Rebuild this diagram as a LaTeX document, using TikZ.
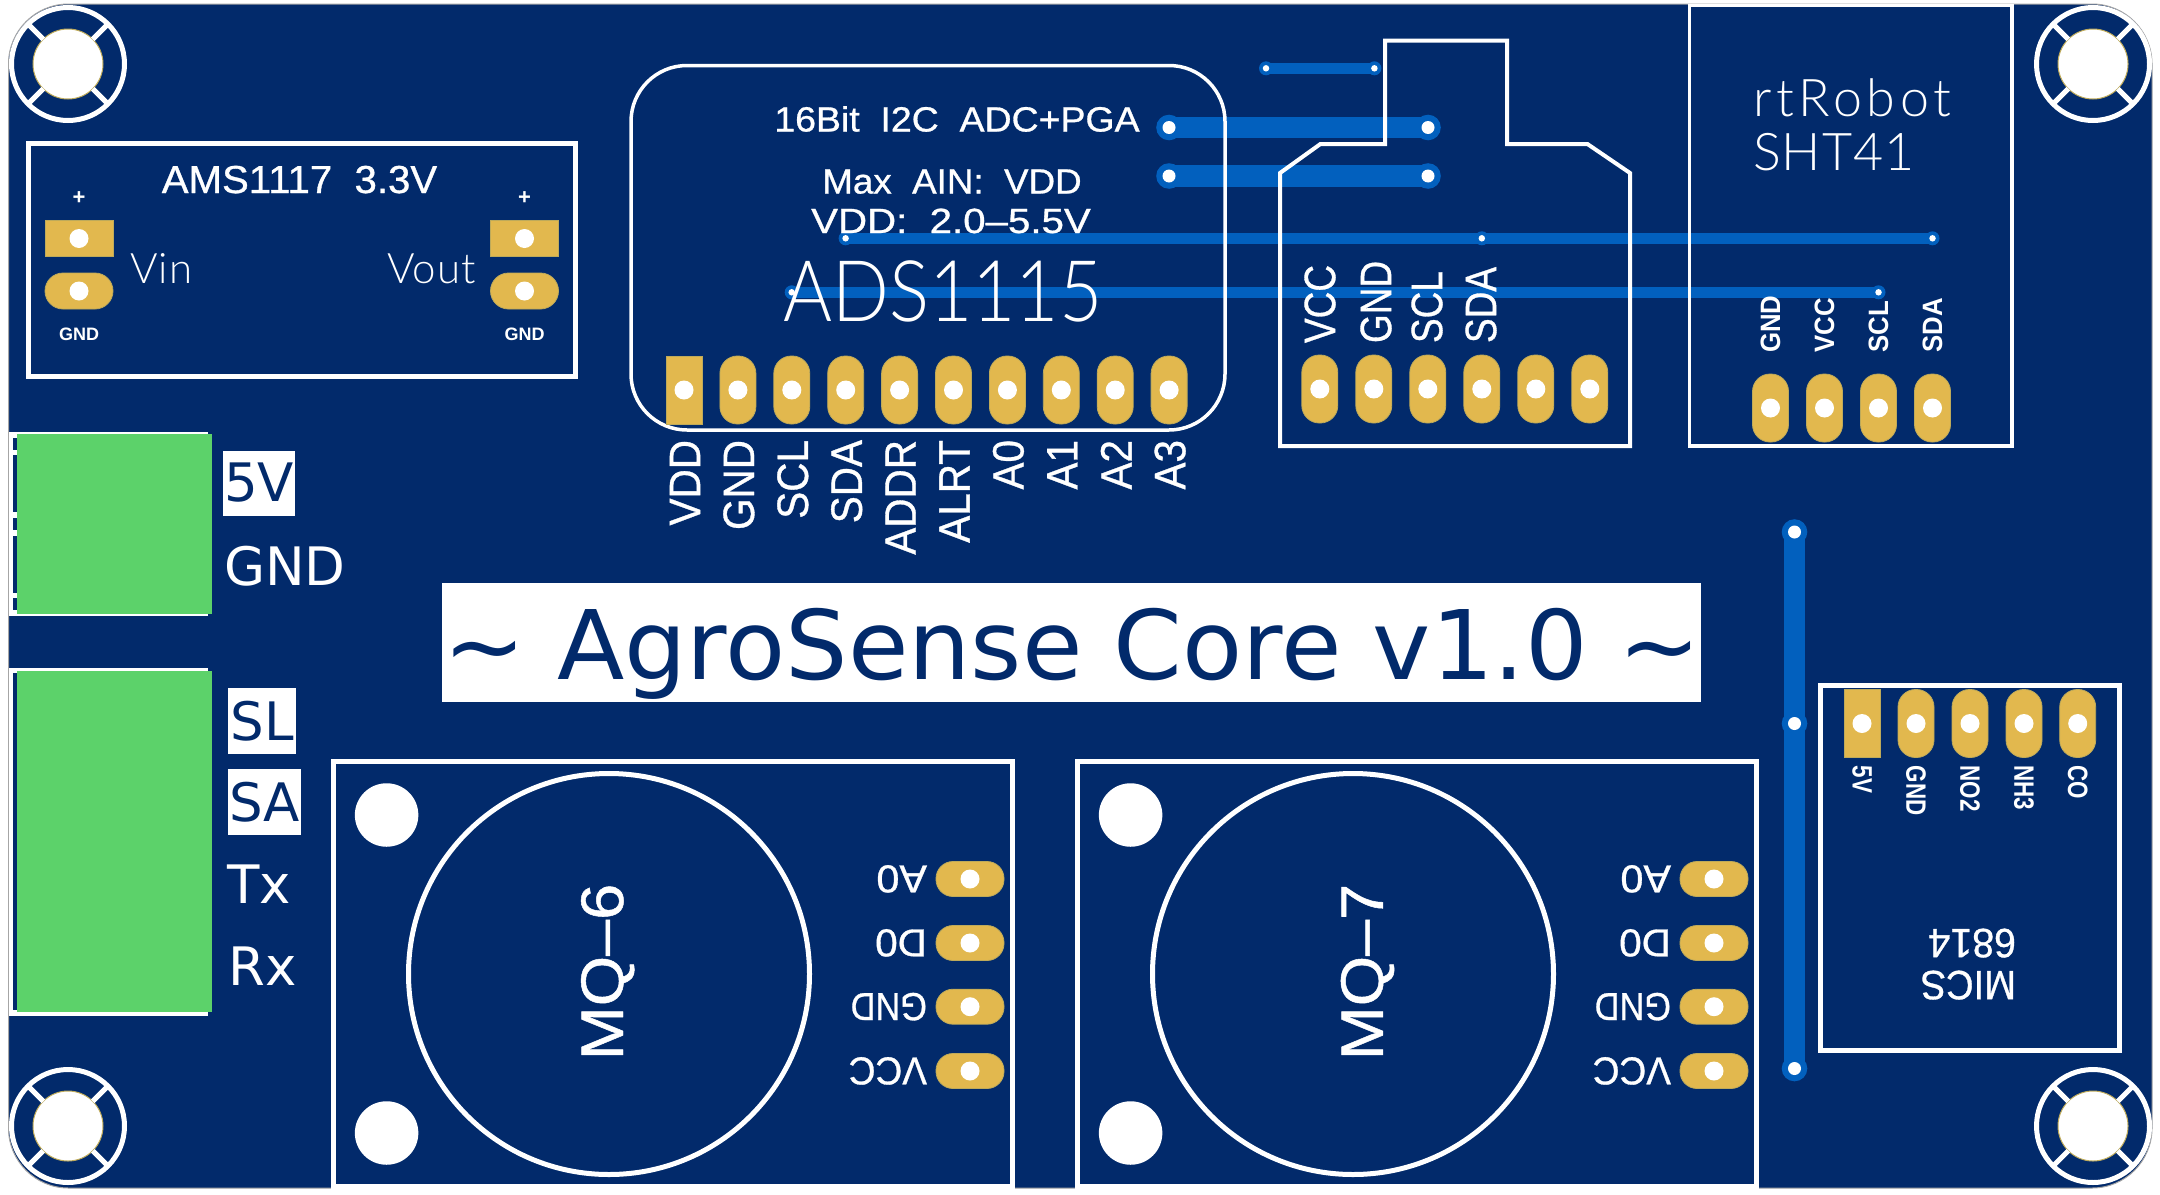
\documentclass[tikz,border=0pt]{standalone}
\usepackage{fontspec}
\setmainfont{Liberation Sans}
\newfontfamily\titlefont{DejaVu Sans}
\newfontfamily\strokefont[FakeBold=0.8]{Liberation Sans}
\newfontfamily\thinfont{Lato Light}
\usetikzlibrary{positioning}
\definecolor{boardcol}{RGB}{2,42,107}
\definecolor{tracecol}{RGB}{2,96,190}
\definecolor{padcol}{RGB}{226,184,78}
\definecolor{paded}{RGB}{190,170,90}
\definecolor{termcol}{RGB}{92,210,106}
\newcommand{\fsz}[1]{\fontsize{#1}{#1}\selectfont}
\newcommand{\squeeze}[2]{\scalebox{#1}[1]{#2}}
\newcommand{\spaced}[2]{{\addfontfeature{LetterSpace=#1}#2}}

\begin{document}
\begin{tikzpicture}[
    x=1pt, y=-1pt,
    every node/.style={inner sep=0pt, outer sep=0pt},
    silk/.style={draw=white, line width=5pt},
    silkthin/.style={draw=white, line width=3.5pt},
    padtall/.style={rectangle, rounded corners=17.5pt, fill=padcol, draw=paded, line width=0.8pt, minimum width=36pt, minimum height=68pt},
    padsq/.style={rectangle, fill=padcol, draw=paded, line width=0.8pt, minimum width=36pt, minimum height=68pt},
    padwide/.style={rectangle, rounded corners=17pt, fill=padcol, draw=paded, line width=0.8pt, minimum width=68pt, minimum height=35pt},
    padflat/.style={rectangle, fill=padcol, draw=paded, line width=0.8pt, minimum width=68pt, minimum height=36pt},
    hole/.style={circle, fill=white, minimum size=19pt},
    via/.style={circle, fill=tracecol, minimum size=#1},
    viahole/.style={circle, fill=white, minimum size=#1},
    thick trace/.style={draw=tracecol, line width=21.5pt},
    thin trace/.style={draw=tracecol, line width=10.5pt},
    lbl/.style={text=white, font=\strokefont\fsz{#1}},
    lblb/.style={text=white, font=\fsz{#1}\bfseries},
    lblthin/.style={text=white, font=\thinfont\fsz{#1}},
    termtxt/.style={text=boardcol, font=\titlefont\fsz{53}},
    highlight/.style={termtxt, fill=white}
]
\useasboundingbox (0,0) rectangle (2160,1194);
\fill[white] (0,0) rectangle (2160,1194);

% Board
\fill[boardcol, draw=gray!70, line width=1pt, rounded corners=60pt] (8.5,4) rectangle (2152,1188);

% Mounting holes
\foreach \x/\y [count=\i] in {68/64, 2093/64, 68/1126, 2093/1126} {
    \node[circle, draw=white, line width=5pt, minimum size=113pt] (ring\i) at (\x,\y) {};
    \node[circle, fill=white, draw=paded, line width=1pt, minimum size=70pt] (bore\i) at (\x,\y) {};
    \foreach \a in {45,135,225,315}
        \draw[silk] (bore\i.\a) -- (ring\i.\a);
}

% Traces
\foreach \name/\x/\y in {pa/1169/127.5, pb/1428/127.5, qa/1169/176, qb/1428/176, va/1794.5/532, vb/1794.5/723.5, vc/1794.5/1068.5}
    \node[via=25.6pt] (\name) at (\x,\y) {};
\foreach \name/\x/\y in {ra/1266/68.3, rb/1374.4/68.3, sa/845.6/238.3, sb/1481.8/238.3, sc/1932.5/238.3, ta/791.7/292.3, tb/1878.5/292.3}
    \node[via=14pt] (\name) at (\x,\y) {};
\draw[thick trace] (pa.center) -- (pb.center);
\draw[thick trace] (qa.center) -- (qb.center);
\draw[thick trace] (va.center) -- (vb.center);
\draw[thick trace] (vb.center) -- (vc.center);
\draw[thin trace] (ra.center) -- (rb.center);
\draw[thin trace] (sa.center) -- (sb.center);
\draw[thin trace] (sb.center) -- (sc.center);
\draw[thin trace] (ta.center) -- (tb.center);
\foreach \name in {pa,pb,qa,qb,va,vb,vc}
    \node[viahole=13pt] (\name h) at (\name) {};
\foreach \name in {ra,rb,sa,sb,sc,ta,tb}
    \node[viahole=6.5pt] (\name h) at (\name) {};

% AMS1117 regulator
\draw[silk] (28.5,143.5) rectangle (575,376.5);
\node[lbl=39, anchor=base] (amstitle) at (299.5,193) {\squeeze{1.03}{AMS1117~~3.3V}};
\foreach \x/\n in {79/l, 524.5/r} {
    \node[padflat] (amsp\n) at (\x,238.5) {};
    \node[padwide, rounded corners=18pt, minimum height=36pt] (amsg\n) at (\x,291) {};
    \node[hole] (amsph\n) at (amsp\n) {};
    \node[hole] (amsgh\n) at (amsg\n) {};
    \node[lblb=22, anchor=base] (amsplus\n) at (\x,204) {+};
    \node[lblb=18, anchor=base] (amsgnd\n) at (\x,340) {GND};
}
\node[lblthin=42, anchor=base west] (vin) at (130,283) {\spaced{3}{Vin}};
\node[lblthin=42, anchor=base west] (vout) at (387.5,283) {\spaced{2}{Vout}};

% ADS1115 board
\draw[silkthin, rounded corners=56pt] (631,65.5) rectangle (1225,430);
\node[lbl=35, anchor=base] (adsa) at (957,131.5) {\squeeze{1.07}{16Bit~~I2C~~ADC+PGA}};
\node[lbl=35, anchor=base] (adsb) at (952,193.5) {\squeeze{1.05}{Max~~AIN:~~VDD}};
\node[lbl=35, anchor=base] (adsc) at (951,233) {\squeeze{1.15}{VDD:~~2.0\textendash5.5V}};
\node[lblthin=85, anchor=base] (adsd) at (943,321) {\squeeze{0.88}{ADS1115}};
\foreach \t [count=\i from 0, evaluate=\i as \x using 684+53.9*\i] in {VDD,GND,SCL,SDA,ADDR,ALRT,A0,A1,A2,A3} {
    \ifnum\i=0
        \node[padsq] (ads\i) at (\x,390) {};
    \else
        \node[padtall] (ads\i) at (\x,390) {};
    \fi
    \node[hole] (adsh\i) at (ads\i) {};
    \node[lbl=44, rotate=90, anchor=east] (adst\i) at (\x+1,440) {\squeeze{0.92}{\t}};
}

% Sensor outline with tab
\draw[draw=white, line width=4pt] (1280,446) -- (1280,173) -- (1320.4,144) -- (1385,144) -- (1385,40.7)
    -- (1507,40.7) -- (1507,144) -- (1587.4,144) -- (1630,173) -- (1630,446) -- cycle;
\foreach \i in {0,...,5} {
    \pgfmathsetmacro{\x}{1319.8+54*\i}
    \node[padtall] (bme\i) at (\x,389) {};
    \node[hole] (bmeh\i) at (bme\i) {};
}
\foreach \x/\t in {1320/VCC, 1376/GND, 1427/SCL, 1481/SDA}
    \node[lbl=44, rotate=90, anchor=west] (bmet\t) at (\x,343) {\squeeze{0.84}{\t}};

% SHT41 board
\draw[silkthin] (1689.5,5.7) rectangle (2012,446);
\node[lblthin=52, anchor=base west] (shta) at (1753,116.5) {\spaced{9}{rtRobot}};
\node[lblthin=52, anchor=base west] (shtb) at (1753,170.5) {\spaced{2}{SHT41}};
\foreach \x/\t in {1770.5/GND, 1824.5/VCC, 1878.5/SCL, 1932.5/SDA} {
    \node[padtall] (sht\t) at (\x,408) {};
    \node[hole] (shth\t) at (sht\t) {};
    \node[lblb=28, rotate=90, anchor=west] (shtt\t) at (\x,352.7) {\squeeze{0.92}{\t}};
}

% Terminal blocks
\fill[white] (8.5,432) rectangle (208,615.7);
\fill[white] (8.5,667.8) rectangle (208,1015.7);
\foreach \ya/\yb in {437.7/450, 455/512, 517.7/530, 536/592.7, 598/610, 673/1010}
    \fill[boardcol] (13,\ya) rectangle (17,\yb);
\fill[termcol] (17,433.8) rectangle (211.7,613.5);
\fill[termcol] (17,670.7) rectangle (211.7,1012);

% Terminal labels
\node[highlight, minimum width=72pt, minimum height=65pt] (tfive) at (259,483) {5V};
\node[termtxt, text=white, anchor=base west] (tgnd) at (224,585) {GND};
\node[highlight, minimum width=68pt, minimum height=65.5pt] (tsl) at (262,721) {SL};
\node[highlight, minimum width=73pt, minimum height=65.5pt] (tsa) at (264.5,802) {SA};
\node[termtxt, text=white, anchor=base west] (ttx) at (227,903.7) {Tx};
\node[termtxt, text=white, anchor=base west] (trx) at (228.5,985) {Rx};

% Title
\node[fill=white, minimum width=1258.7pt, minimum height=119.3pt] (titlebox) at (1071.6,642.3) {};
\node[text=boardcol, font=\titlefont\fsz{96}, anchor=base] (title) at (1072.5,679.3) {\squeeze{1.025}{\string~ AgroSense Core v1.0 \string~}};

% MQ gas sensors
\foreach \dx/\lab/\bx in {0/6/623, 744/7/1382.8} {
    \draw[silk] (333.5+\dx,761.5) rectangle (1012.5+\dx,1186.5);
    \node[circle, draw=white, line width=5pt, minimum size=401pt] (mqring\lab) at (609+\dx,974) {};
    \node[circle, fill=white, minimum size=63.5pt] (mqa\lab) at (386.6+\dx,815) {};
    \node[circle, fill=white, minimum size=63.5pt] (mqb\lab) at (386.6+\dx,1133) {};
    \node[lbl=60, rotate=90, anchor=base] (mqname\lab) at (\bx,972) {\squeeze{1.08}{MQ\textendash\lab}};
    \foreach \y/\t/\n/\w in {879/A0/a/1.06, 943/D0/d/1.04, 1006.7/GND/g/0.88, 1071/VCC/v/0.95} {
        \node[padwide] (mqp\lab\n) at (970+\dx,\y) {};
        \node[hole] (mqh\lab\n) at (mqp\lab\n) {};
        \node[lbl=39, rotate=180, anchor=base west] (mqt\lab\n) at (927+\dx,\y-13.5) {\squeeze{\w}{\t}};
    }
}

% MICS board
\draw[silk] (1820.5,685) rectangle (2119.5,1050);
\foreach \x/\t [count=\i] in {1862/5V, 1916/GND, 1970/NO2, 2024/NH3, 2077.7/CO} {
    \ifnum\i=1
        \node[padsq] (mics\i) at (\x,723.5) {};
    \else
        \node[padtall] (mics\i) at (\x,723.5) {};
    \fi
    \node[hole] (micsh\i) at (mics\i) {};
    \node[lblb=28, rotate=-90, anchor=west] (micst\i) at (\x,765.6) {\squeeze{0.8}{\t}};
}
\node[lbl=41, rotate=180, anchor=base west] (micsa) at (2016,929) {\squeeze{0.96}{6814}};
\node[lbl=41, rotate=180, anchor=base west] (micsb) at (2016,971) {\squeeze{0.93}{MICS}};
\end{tikzpicture}
\end{document}
